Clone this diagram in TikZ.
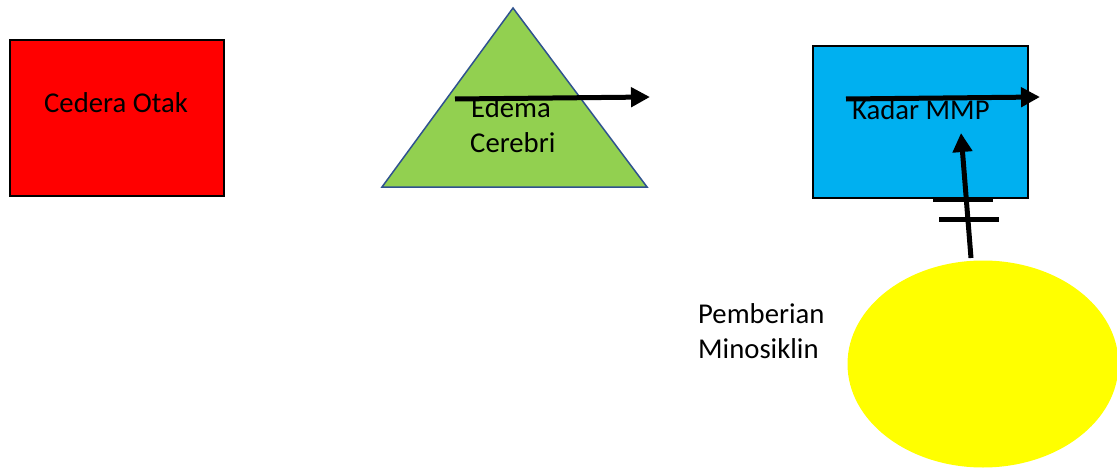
\documentclass[tikz,border=0pt]{standalone}
\usepackage{fontspec}
\setmainfont{Carlito}
\usetikzlibrary{arrows.meta,shapes.geometric}
\definecolor{redfill}{HTML}{FF0000}
\definecolor{greenfill}{HTML}{92D050}
\definecolor{bluefill}{HTML}{00B0F0}
\definecolor{triedge}{HTML}{2F528F}
\definecolor{yellowfill}{HTML}{FFFF00}
\begin{document}
\begin{tikzpicture}[x=1pt,y=-1pt,
  boxshape/.style={rectangle,draw=black,line width=1.6pt,inner sep=0pt},
  lbl/.style={anchor=base west,inner sep=0pt,font=\fontsize{28.7}{35}\selectfont,text=black,align=left},
  bigarrow/.style={line width=5pt,-{Triangle[length=19pt,width=19pt]}},
  tickbar/.style={line width=5pt}]
\useasboundingbox (0,0) rectangle (1117,471);
% red box
\node[boxshape,fill=redfill,minimum width=214pt,minimum height=156pt] (cedera) at (117,118) {};
\node[lbl] (cederaT) at (44,112) {Cedera Otak};
% triangle
\coordinate (tTop) at (513,8);
\coordinate (tL) at (382,187);
\coordinate (tR) at (647,187);
\filldraw[fill=greenfill,draw=triedge,line width=1.5pt,line join=miter] (tTop) -- (tL) -- (tR) -- cycle;
\node[lbl] (edemaT) at (471,117) {Edema};
\node[lbl] (cerebriT) at (470,152) {Cerebri};
\coordinate (a1s) at (455,99);
\coordinate (a1e) at (650,97);
\draw[bigarrow] (a1s) -- (a1e);
% blue box
\node[boxshape,fill=bluefill,minimum width=215pt,minimum height=152pt] (kadar) at (920.5,122) {};
\node[lbl] (kadarT) at (852,119) {Kadar MMP};
\coordinate (a2s) at (846,99);
\coordinate (a2e) at (1040,97);
\draw[bigarrow] (a2s) -- (a2e);
% yellow ellipse
\node[ellipse,fill=yellowfill,minimum width=271pt,minimum height=207pt,inner sep=0pt] (minos) at (983,364) {};
\node[lbl] (minosT) at (698,358) {Pemberian\\Minosiklin};
\coordinate (a3s) at (971,258);
\coordinate (a3e) at (961,133);
\draw[bigarrow] (a3s) -- (a3e);
\coordinate (b1l) at (933,199);
\coordinate (b1r) at (993,199);
\coordinate (b2l) at (939,219);
\coordinate (b2r) at (999,219);
\draw[tickbar] (b1l) -- (b1r);
\draw[tickbar] (b2l) -- (b2r);
\end{tikzpicture}
\end{document}
